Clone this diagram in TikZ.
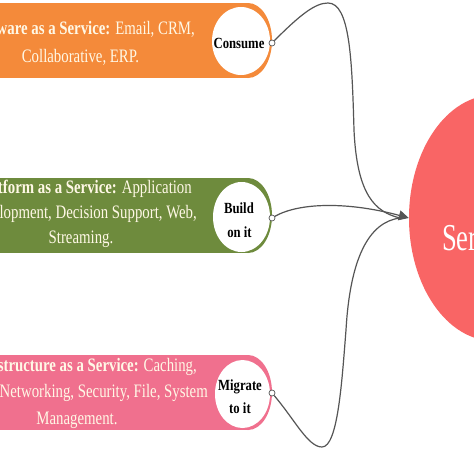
\documentclass[tikz,border=0pt]{standalone}
\usepackage{fontspec}
\setmainfont{Liberation Serif}
\newfontfamily\boxfont[FakeStretch=0.78]{Liberation Serif}
\newfontfamily\lblfont[FakeStretch=0.82]{Liberation Serif}
\newfontfamily\bigfont[FakeStretch=0.7]{Liberation Serif}
\usetikzlibrary{shapes.geometric,arrows.meta}
\definecolor{cOrange}{HTML}{F48A3A}
\definecolor{cGreen}{HTML}{6E8B3D}
\definecolor{cPink}{HTML}{F0708E}
\definecolor{cRed}{HTML}{F96565}
\definecolor{cCream}{HTML}{FFF8E6}
\definecolor{cLine}{HTML}{555555}
\tikzset{
  boxtxt/.style={inner sep=0pt, text=cCream, font=\boxfont\fontsize{19}{22}\selectfont},
  lbltxt/.style={inner sep=0pt, text=black, font=\lblfont\bfseries\fontsize{15.5}{18}\selectfont},
  hole/.style={ellipse, fill=white, draw=none, inner sep=0pt},
  joint/.style={circle, fill=white, draw=cLine, line width=0.7pt, minimum size=6pt, inner sep=0pt},
  link/.style={draw=cLine, line width=1.2pt},
}
\begin{document}
\begin{tikzpicture}[x=1pt,y=-1pt]
\useasboundingbox (0,0) rectangle (474,474);
\clip (0,0) rectangle (474,474);
\fill[white] (0,0) rectangle (474,474);

% service circle
\node[ellipse, fill=cRed, minimum width=170pt, minimum height=246pt, inner sep=0pt] (svc) at (494,218) {};
\node[anchor=base west, inner sep=0pt, text=white, font=\bigfont\fontsize{38}{40}\selectfont] (svct) at (442,250) {Services};

% boxes
\fill[cOrange] (-30,3) rectangle (248,78);
\fill[cOrange] (248,40.5) ellipse[x radius=24, y radius=37.5];
\fill[cGreen] (-30,178) rectangle (248,253);
\fill[cGreen] (248,215.5) ellipse[x radius=24, y radius=37.5];
\fill[cPink] (-30,355) rectangle (248,430);
\fill[cPink] (248,392.5) ellipse[x radius=24, y radius=37.5];

% holes
\node[hole, minimum width=58pt, minimum height=68pt] (ho) at (241,41) {};
\node[hole, minimum width=57pt, minimum height=70pt] (hg) at (241.5,217) {};
\node[hole, minimum width=55pt, minimum height=68pt] (hp) at (242.5,394) {};

% box texts
\node[boxtxt, anchor=base east] (o1) at (195,34) {\textbf{Software as a Service:} Email, CRM,};
\node[boxtxt, anchor=base] (o2) at (80.5,62) {Collaborative, ERP.};
\node[boxtxt, anchor=base east] (g1) at (192,193) {\textbf{Platform as a Service:} Application};
\node[boxtxt, anchor=base east] (g2) at (197,218) {Development, Decision Support, Web,};
\node[boxtxt, anchor=base] (g3) at (81,243) {Streaming.};
\node[boxtxt, anchor=base east] (p1) at (197,371) {\textbf{Infrastructure as a Service:} Caching,};
\node[boxtxt, anchor=base east] (p2) at (208,397) {Networking, Security, File, System};
\node[boxtxt, anchor=base] (p3) at (77,424) {Management.};

% circle labels
\node[lbltxt, anchor=base] (lo) at (239,48) {Consume};
\node[lbltxt, anchor=base] (lg1) at (239,213) {Build};
\node[lbltxt, anchor=base] (lg2) at (239.5,237) {on it};
\node[lbltxt, anchor=base] (lp1) at (240,390) {Migrate};
\node[lbltxt, anchor=base] (lp2) at (240,413) {to it};

% joints
\node[joint] (jo) at (272,43) {};
\node[joint] (jg) at (272,218) {};
\node[joint] (jp) at (272,393) {};

% connectors
\coordinate (tipback) at (400,218);
\draw[link] (jo) .. controls (300,15) and (315,3) .. (328,3)
  .. controls (350,3) and (352,60) .. (354,130)
  .. controls (357,195) and (375,212) .. (tipback);
\draw[link] (jp) .. controls (295,420) and (308,447) .. (322,447)
  .. controls (338,447) and (342,380) .. (346,330)
  .. controls (350,260) and (368,222) .. (tipback);
\draw[link, -{Triangle[length=10pt,width=10pt]}] (jg) .. controls (300,202) and (350,202) .. (svc.west);
\end{tikzpicture}
\end{document}
